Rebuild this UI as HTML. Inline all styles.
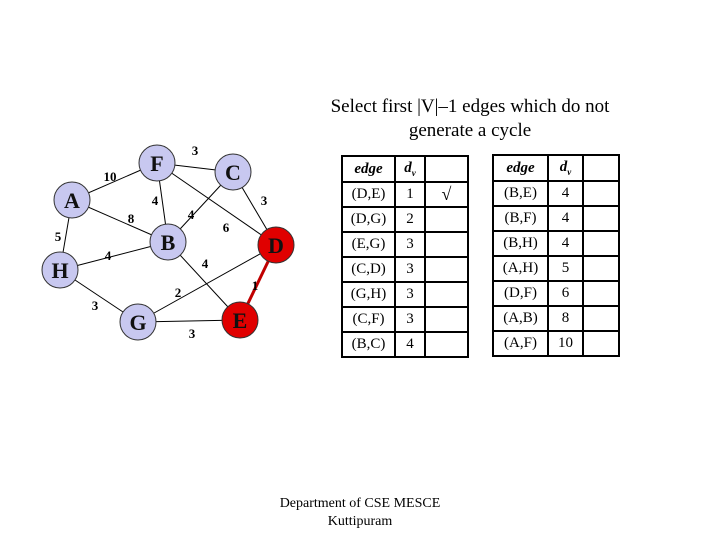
<!DOCTYPE html>
<html><head><style>
body{margin:0;width:720px;height:540px;background:#fff;position:relative;font-family:"Liberation Serif",serif;overflow:hidden}
.t{position:absolute;text-align:center}
table{position:absolute;border-collapse:collapse;font-family:"Liberation Serif",serif;font-size:15px}
td{border:2px solid #000;text-align:center;padding:0;height:23px}
th{border:2px solid #000;font-style:italic;font-weight:bold;font-size:15px;height:24px;padding:0}
</style></head><body>
<div class="t" style="left:300px;top:95px;width:340px;font-size:19px;line-height:24px">Select first |V|–1 edges which do not<br>generate a cycle</div>
<svg width="720" height="540" style="position:absolute;left:0;top:0">
<g stroke="#000" stroke-width="1">
<line x1="157" y1="163" x2="233" y2="172"/>
<line x1="72" y1="200" x2="157" y2="163"/>
<line x1="157" y1="163" x2="168" y2="242"/>
<line x1="157" y1="163" x2="276" y2="245"/>
<line x1="72" y1="200" x2="168" y2="242"/>
<line x1="233" y1="172" x2="168" y2="242"/>
<line x1="233" y1="172" x2="276" y2="245"/>
<line x1="72" y1="200" x2="60" y2="270"/>
<line x1="60" y1="270" x2="168" y2="242"/>
<line x1="168" y1="242" x2="240" y2="320"/>
<line x1="138" y1="322" x2="276" y2="245"/>
<line x1="60" y1="270" x2="138" y2="322"/>
<line x1="138" y1="322" x2="240" y2="320"/>
</g>
<line x1="276" y1="245" x2="240" y2="320" stroke="#c00000" stroke-width="3"/>
<g stroke="#333" stroke-width="1" fill="#c8c8f0">
<circle cx="157" cy="163" r="18"/><circle cx="233" cy="172" r="18"/><circle cx="72" cy="200" r="18"/>
<circle cx="168" cy="242" r="18"/><circle cx="60" cy="270" r="18"/><circle cx="138" cy="322" r="18"/>
<circle cx="276" cy="245" r="18" fill="#e00000"/><circle cx="240" cy="320" r="18" fill="#e00000"/>
</g>
<g font-family="Liberation Serif,serif" font-weight="bold" font-size="22" text-anchor="middle" fill="#111">
<text x="157" y="171">F</text><text x="233" y="180">C</text><text x="72" y="208">A</text>
<text x="168" y="250">B</text><text x="276" y="253">D</text><text x="60" y="278">H</text>
<text x="138" y="330">G</text><text x="240" y="328">E</text>
</g>
<g font-family="Liberation Serif,serif" font-weight="bold" font-size="13" text-anchor="middle" fill="#000">
<text x="195" y="155">3</text><text x="110" y="181">10</text><text x="155" y="205">4</text>
<text x="131" y="223">8</text><text x="191" y="219">4</text><text x="226" y="232">6</text>
<text x="264" y="205">3</text><text x="58" y="241">5</text><text x="108" y="260">4</text>
<text x="205" y="268">4</text><text x="255" y="290">1</text><text x="178" y="297">2</text>
<text x="95" y="310">3</text><text x="192" y="338">3</text>
</g>
</svg>
<table style="left:341px;top:155px;width:128px">
<tr><th style="width:51px">edge</th><th style="width:28px">d<sub style="font-size:9px">v</sub></th><th></th></tr>
<tr><td>(D,E)</td><td>1</td><td style="font-weight:bold;font-size:18px">√</td></tr>
<tr><td>(D,G)</td><td>2</td><td></td></tr>
<tr><td>(E,G)</td><td>3</td><td></td></tr>
<tr><td>(C,D)</td><td>3</td><td></td></tr>
<tr><td>(G,H)</td><td>3</td><td></td></tr>
<tr><td>(C,F)</td><td>3</td><td></td></tr>
<tr><td>(B,C)</td><td>4</td><td></td></tr>
</table>
<table style="left:492px;top:154px;width:128px">
<tr><th style="width:53px">edge</th><th style="width:33px">d<sub style="font-size:9px">v</sub></th><th></th></tr>
<tr><td>(B,E)</td><td>4</td><td></td></tr>
<tr><td>(B,F)</td><td>4</td><td></td></tr>
<tr><td>(B,H)</td><td>4</td><td></td></tr>
<tr><td>(A,H)</td><td>5</td><td></td></tr>
<tr><td>(D,F)</td><td>6</td><td></td></tr>
<tr><td>(A,B)</td><td>8</td><td></td></tr>
<tr><td>(A,F)</td><td>10</td><td></td></tr>
</table>
<div class="t" style="left:260px;top:495px;width:200px;font-size:14px;line-height:18px">Department of CSE MESCE<br>Kuttipuram</div>
</body></html>
